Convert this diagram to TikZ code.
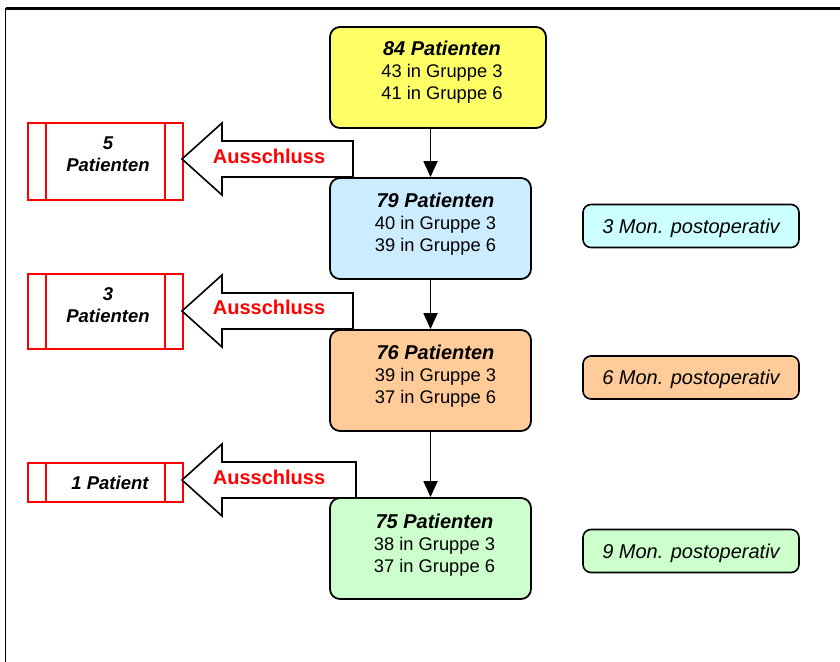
\documentclass[tikz,border=0pt]{standalone}
\usepackage{fontspec}
\setmainfont{Liberation Sans}
\usetikzlibrary{arrows.meta,calc}
\definecolor{cyel}{HTML}{FFFF66}
\definecolor{cblue}{HTML}{CCECFF}
\definecolor{corange}{HTML}{FFCC99}
\definecolor{cgreen}{HTML}{CCFFCC}
\definecolor{ccyan}{HTML}{CCFFFF}
\newcommand{\headtxt}[1]{{\fontsize{20}{22}\selectfont\bfseries\itshape #1}}
\begin{document}
\begin{tikzpicture}[x=1pt,y=-1pt,
  mainbox/.style={draw=black, line width=1.8pt, rounded corners=10pt, minimum width=#1, minimum height=101pt, inner sep=0pt},
  monbox/.style={draw=black, line width=1.6pt, rounded corners=8pt, minimum width=216pt, minimum height=43pt, inner sep=0pt, font=\fontsize{20}{22}\selectfont\itshape, text height=14.3pt, text depth=0pt},
  bodytxt/.style={align=center, inner sep=0pt, font=\fontsize{18.3}{22}\selectfont},
  redbox/.style={draw=red, line width=2pt, minimum width=155pt, minimum height=#1, inner sep=0pt},
  redtxt/.style={align=center, inner sep=0pt, font=\fontsize{18.5}{22}\selectfont\bfseries\itshape},
  redline/.style={draw=red, line width=2pt},
  blockarrow/.style={draw=black, line width=1.6pt, fill=white, line join=miter},
  extxt/.style={inner sep=0pt, text=red, font=\fontsize{20}{22}\selectfont\bfseries, text height=14.3pt, text depth=0pt},
  conn/.style={draw=black, line width=1.8pt, -{Triangle[width=14pt,length=16pt]}}
]
\useasboundingbox (0,0) rectangle (840,661);
% frame
\draw[line width=2.5pt] (5.5,8.5) -- (842,8.5);
\draw[line width=1.5pt] (5.5,8.5) -- (5.5,663);

% main boxes
\node[mainbox=216pt, fill=cyel] (b1) at (438,77.5) {};
\node[mainbox=201pt, fill=cblue] (b2) at (430.5,228.5) {};
\node[mainbox=201pt, fill=corange] (b3) at (430.5,380.5) {};
\node[mainbox=201pt, fill=cgreen] (b4) at (430.5,548.5) {};

\node[bodytxt, anchor=north] (t1) at ([shift={(4,15)}]b1.north) {\headtxt{84 Patienten}\\43 in Gruppe 3\\41 in Gruppe 6};
\node[bodytxt, anchor=north] (t2) at ([shift={(5,16)}]b2.north) {\headtxt{79 Patienten}\\40 in Gruppe 3\\39 in Gruppe 6};
\node[bodytxt, anchor=north] (t3) at ([shift={(5,16)}]b3.north) {\headtxt{76 Patienten}\\39 in Gruppe 3\\37 in Gruppe 6};
\node[bodytxt, anchor=north] (t4) at ([shift={(4,16.5)}]b4.north) {\headtxt{75 Patienten}\\38 in Gruppe 3\\37 in Gruppe 6};

% connectors
\draw[conn] (b1.south -| b2.north) -- (b2.north);
\draw[conn] (b2.south) -- (b3.north);
\draw[conn] (b3.south) -- (b4.north);

% month boxes
\node[monbox, fill=ccyan] (m1) at (691,226) {3 Mon. postoperativ};
\node[monbox, fill=corange] (m2) at (691,377.5) {6 Mon. postoperativ};
\node[monbox, fill=cgreen] (m3) at (691,551) {9 Mon. postoperativ};

% exclusion boxes
\node[redbox=77pt] (rA) at (105.5,161.5) {};
\node[redbox=75pt] (rB) at (105.5,311.5) {};
\node[redbox=39pt] (rC) at (105.5,482.5) {};
\foreach \r in {rA,rB,rC}{
  \draw[redline] ([xshift=19pt]\r.north west) -- ([xshift=19pt]\r.south west);
  \draw[redline] ([xshift=-19pt]\r.north east) -- ([xshift=-19pt]\r.south east);
}
\node[redtxt] (xA) at (108,154) {5\\Patienten};
\node[redtxt] (xB) at (108,305) {3\\Patienten};
\node[redtxt] (xC) at (110,483) {1 Patient};

% block arrows
\draw[blockarrow] (182,159) -- (222,123) -- (222,141) -- (353,141) -- (353,177) -- (222,177) -- (222,195) -- cycle;
\draw[blockarrow] (182,311) -- (222,275) -- (222,293) -- (353,293) -- (353,329) -- (222,329) -- (222,347) -- cycle;
\draw[blockarrow] (182,480) -- (222,444) -- (222,462) -- (356,462) -- (356,498) -- (222,498) -- (222,516) -- cycle;
\node[extxt] (e1) at (269,156) {Ausschluss};
\node[extxt] (e2) at (269,307) {Ausschluss};
\node[extxt] (e3) at (269,477) {Ausschluss};
\end{tikzpicture}
\end{document}
